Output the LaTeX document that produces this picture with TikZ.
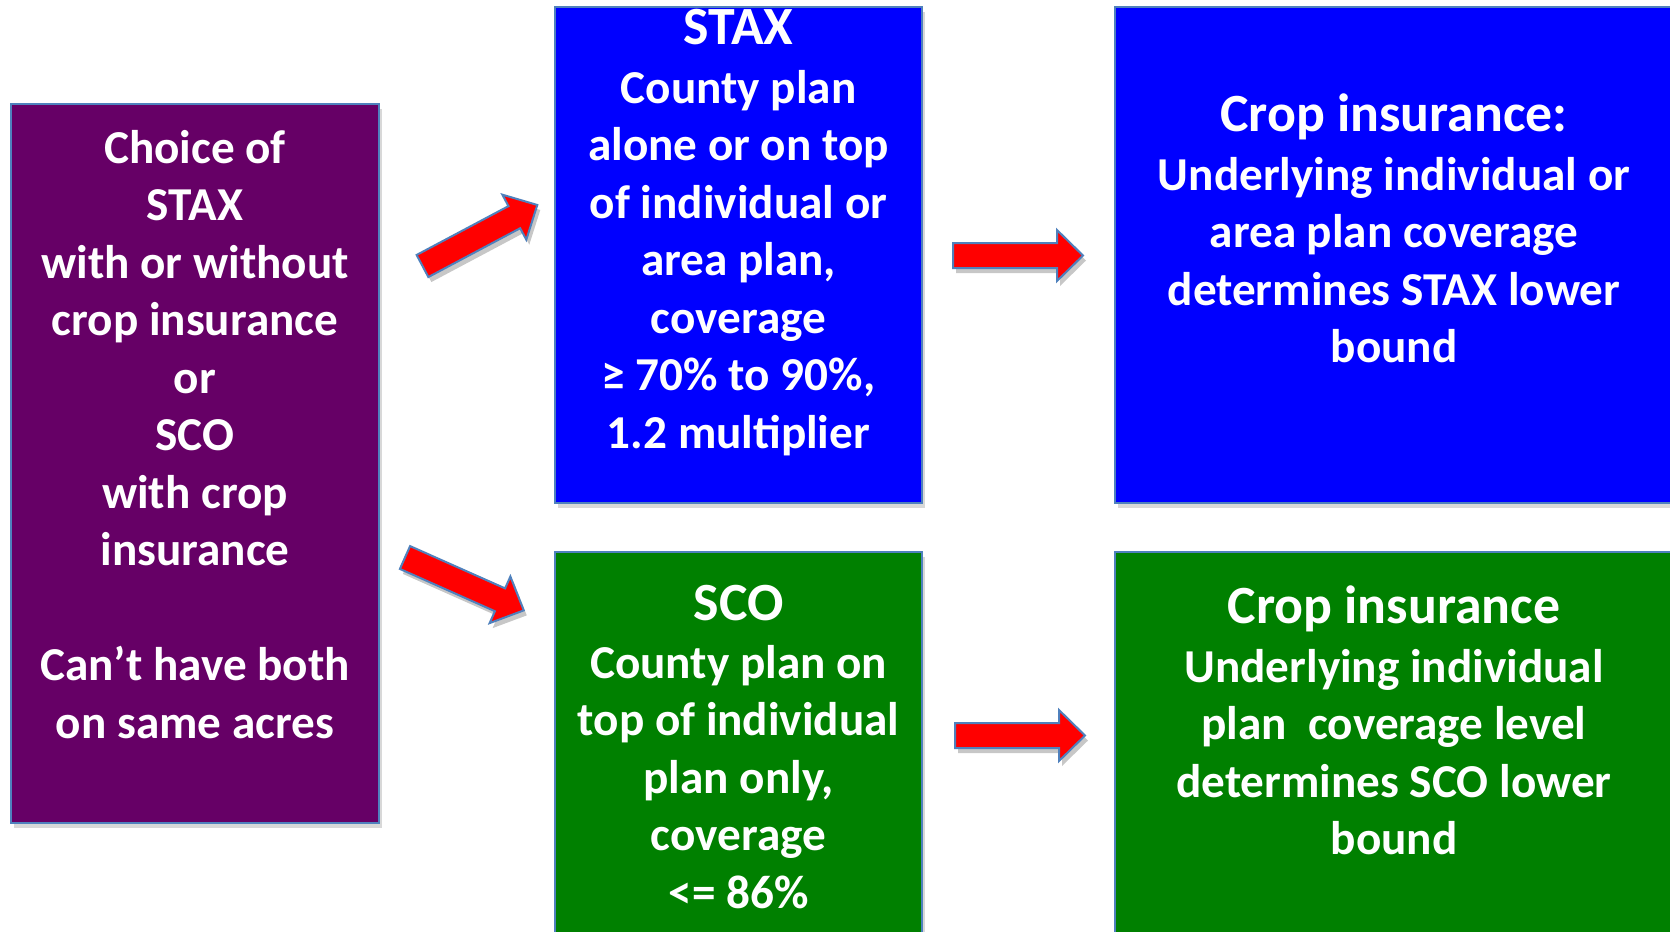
\documentclass[tikz,border=0pt]{standalone}
\usepackage{fontspec}
\setmainfont{Carlito}
\usetikzlibrary{fit,shadows}
\definecolor{cpurple}{HTML}{660066}
\definecolor{cblue}{HTML}{0000FF}
\definecolor{cgreen}{HTML}{008000}
\definecolor{cred}{HTML}{FF0000}
\definecolor{cedge}{HTML}{4F81BD}
\tikzset{
  box/.style={draw=cedge, line width=1bp, inner sep=0pt,
    drop shadow={shadow xshift=1.5bp, shadow yshift=-2.5bp, opacity=0.3}},
  txt/.style={text=white, font=\bfseries\fontsize{23.6bp}{28.75bp}\selectfont, inner sep=0pt, anchor=base},
  headtxt/.style={txt, font=\bfseries\fontsize{26.9bp}{28.75bp}\selectfont},
  arr/.style={fill=cred, draw=cedge, line width=1bp, line join=miter},
  arrshadow/.style={fill=black, opacity=0.22},
}
\newcommand\blockarrow[2]{%
  \begin{scope}[shift={(#1)}, xshift=1.5bp, yshift=-2.5bp, rotate=#2]
    \fill[arrshadow] (0,12.5) -- (104,12.5) -- (104,25.5) -- (130,0) -- (104,-25.5) -- (104,-12.5) -- (0,-12.5) -- cycle;
  \end{scope}
  \begin{scope}[shift={(#1)}, rotate=#2]
    \draw[arr] (0,12.5) -- (104,12.5) -- (104,25.5) -- (130,0) -- (104,-25.5) -- (104,-12.5) -- (0,-12.5) -- cycle;
  \end{scope}}
\newcommand\textlines[4]{%
  \foreach [count=\i] \linetext in {#4} {\node[txt] (#1\i) at ({#2},{#3+57.5*(\i-1)}) {\linetext};}}
\begin{document}
\begin{tikzpicture}[x=0.5bp, y=-0.5bp]
  \useasboundingbox (0,0) rectangle (1670,931);
  \fill[white] (0,0) rectangle (1670,931);
  \clip (0,0) rectangle (1670,931);

  % boxes
  \node[box, fill=cpurple, fit={(11,104) (379,823)}] (choice) {};
  \node[box, fill=cblue, fit={(555,7) (922,503)}] (stax) {};
  \node[box, fill=cblue, fit={(1115,7) (1720,503)}] (cropA) {};
  \node[box, fill=cgreen, fit={(555,552) (922,990)}] (sco) {};
  \node[box, fill=cgreen, fit={(1115,552) (1720,990)}] (cropB) {};

  % arrows
  \coordinate (a1s) at (422.5,266);
  \coordinate (a2s) at (405,557.5);
  \coordinate (a3s) at (953,255.5);
  \coordinate (a4s) at (955,735.5);
  \blockarrow{a1s}{28}
  \blockarrow{a2s}{-24}
  \blockarrow{a3s}{0}
  \blockarrow{a4s}{0}

  % purple text
  \textlines{p}{195}{163}{Choice of, STAX, with or without, crop insurance, or, SCO, with crop, insurance}
  \textlines{q}{195}{680.5}{Can’t have both, on same acres}

  % STAX text
  \node[headtxt] (staxh) at (738.5,44) {STAX};
  \textlines{s}{738.5}{103}{County plan, alone or on top, of individual or, {area plan,}, coverage, {≥ 70\% to 90\%,}, 1.2 multiplier}

  % right blue text
  \node[headtxt] (cah) at (1394,131) {Crop insurance:};
  \textlines{c}{1394}{190}{Underlying individual or, area plan coverage, determines STAX lower, bound}

  % SCO text
  \node[headtxt] (scoh) at (738.5,620) {SCO};
  \textlines{o}{738.5}{678}{County plan on, top of individual, {plan only,}, coverage, <= 86\%}

  % right green text
  \node[headtxt] (cbh) at (1394,623) {Crop insurance};
  \textlines{g}{1394}{682}{Underlying individual, plan\ \ coverage level, determines SCO lower, bound}
\end{tikzpicture}
\end{document}
